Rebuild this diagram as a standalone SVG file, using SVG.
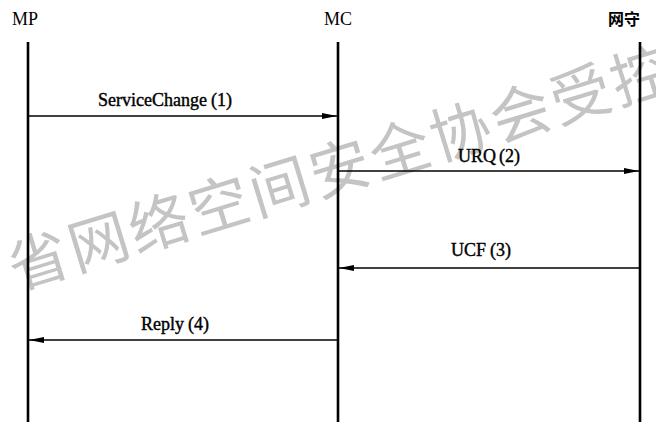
<svg xmlns="http://www.w3.org/2000/svg" width="656" height="422" viewBox="0 0 656 422">
<style>
.hdr{font-family:"Liberation Serif","Times New Roman",serif;font-size:18px;fill:#000;}
.cjk{font-family:"Noto Sans CJK SC","Noto Serif CJK SC",sans-serif;font-size:16px;font-weight:bold;fill:#000;}
.life{stroke:#000;stroke-width:2.6;fill:none;}
.msg{stroke:#000;stroke-width:1.4;fill:none;}
.lbl{font-family:"Liberation Serif","Times New Roman",serif;font-size:18px;fill:#000;stroke:#000;stroke-width:0.4;}
.wm{font-family:"Noto Sans CJK SC",sans-serif;font-size:60px;fill:#c4c4c4;}
</style>
<defs>
<marker id="ah" markerWidth="16" markerHeight="8" refX="15" refY="4" orient="auto" markerUnits="userSpaceOnUse">
<path d="M0,1 L15,4 L0,7 Z" fill="#000"/>
</marker>
</defs>
<rect width="656" height="422" fill="#fff"/>
<g id="watermark">
<text class="wm" x="16" y="290" letter-spacing="3" transform="rotate(-17 16 290)">省网络空间安全协会受控</text>
</g>
<g id="node-mp">
<text class="hdr" x="12" y="25">MP</text>
<line class="life" x1="28" y1="42" x2="28" y2="422"/>
</g>
<g id="node-mc">
<text class="hdr" x="338" y="25" text-anchor="middle">MC</text>
<line class="life" x1="338" y1="42" x2="338" y2="422"/>
</g>
<g id="node-gk">
<text class="cjk" x="608" y="25">网守</text>
<line class="life" x1="640" y1="42" x2="640" y2="422"/>
</g>
<g id="connectors">
<line class="msg" x1="28" y1="116" x2="337" y2="116" marker-end="url(#ah)"/>
<text class="lbl" x="165" y="106" text-anchor="middle">ServiceChange<tspan dx="4">(1)</tspan></text>
<line class="msg" x1="338" y1="171" x2="639" y2="171" marker-end="url(#ah)"/>
<text class="lbl" x="489" y="162" text-anchor="middle">URQ<tspan dx="3">(2)</tspan></text>
<line class="msg" x1="640" y1="268" x2="339" y2="268" marker-end="url(#ah)"/>
<text class="lbl" x="481" y="256" text-anchor="middle">UCF<tspan dx="4">(3)</tspan></text>
<line class="msg" x1="338" y1="340" x2="29" y2="340" marker-end="url(#ah)"/>
<text class="lbl" x="175" y="330" text-anchor="middle">Reply<tspan dx="4">(4)</tspan></text>
</g>
</svg>
